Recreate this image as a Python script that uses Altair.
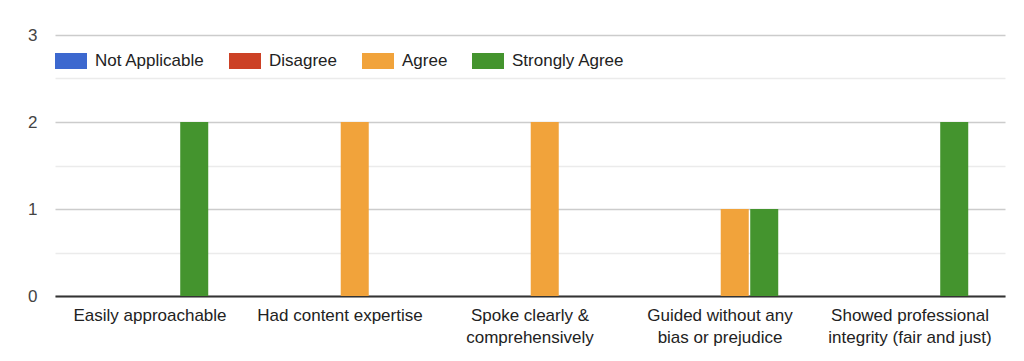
import altair as alt
import pandas as pd

categories = [
    "Easily approachable",
    "Had content expertise",
    "Spoke clearly & comprehensively",
    "Guided without any bias or prejudice",
    "Showed professional integrity (fair and just)",
]
label_lines = {
    "Spoke clearly & comprehensively": ["Spoke clearly &", "comprehensively"],
    "Guided without any bias or prejudice": ["Guided without any", "bias or prejudice"],
    "Showed professional integrity (fair and just)": ["Showed professional", "integrity (fair and just)"],
}
levels = ["Not Applicable", "Disagree", "Agree", "Strongly Agree"]
colors = ["#3c68cf", "#cc4125", "#f1a33b", "#44942e"]

not_applicable = [0, 0, 0, 0, 0]
disagree = [0, 0, 0, 0, 0]
agree = [0, 2, 2, 1, 0]
strongly_agree = [2, 0, 0, 1, 2]

series = {
    "Not Applicable": not_applicable,
    "Disagree": disagree,
    "Agree": agree,
    "Strongly Agree": strongly_agree,
}
rows = []
for lvl in levels:
    for c, v in zip(categories, series[lvl]):
        rows.append({"Category": c, "Response": lvl, "Count": v})
df = pd.DataFrame(rows)

expr = "datum.label"
for k, v in label_lines.items():
    arr = "[" + ", ".join("'" + s + "'" for s in v) + "]"
    k_esc = k.replace("'", "\\'")
    expr = f"datum.label == '{k_esc}' ? {arr} : ({expr})"

FONT = "Liberation Sans"

chart = (
    alt.Chart(df)
    .mark_bar()
    .encode(
        x=alt.X(
            "Category:N",
            sort=categories,
            title=None,
            scale=alt.Scale(paddingInner=0.387, paddingOuter=0.1935),
            axis=alt.Axis(
                labelAngle=0,
                labelExpr=expr,
                ticks=False,
                domainColor="#333333",
                domainWidth=2,
                labelColor="#222222",
                labelFont=FONT,
                labelFontSize=17,
                labelPadding=11,
                labelLineHeight=22,
                labelLimit=300,
            ),
        ),
        xOffset=alt.XOffset(
            "Response:N",
            sort=levels,
            scale=alt.Scale(paddingInner=0.05, paddingOuter=0),
        ),
        y=alt.Y(
            "Count:Q",
            title=None,
            scale=alt.Scale(domain=[0, 3], nice=False),
            axis=alt.Axis(
                values=[0, 0.5, 1, 1.5, 2, 2.5, 3],
                labelExpr="datum.value % 1 == 0 ? format(datum.value, 'd') : ''",
                gridColor={
                    "condition": {"test": "datum.value % 1 == 0", "value": "#cccccc"},
                    "value": "#ebebeb",
                },
                gridWidth=1.5,
                domain=False,
                ticks=False,
                labelColor="#444444",
                labelFont=FONT,
                labelFontSize=17,
                labelPadding=18,
            ),
        ),
        color=alt.Color(
            "Response:N",
            sort=levels,
            scale=alt.Scale(domain=levels, range=colors),
            legend=alt.Legend(
                title=None,
                orient="none",
                legendX=0,
                legendY=10,
                direction="horizontal",
                columns=4,
                symbolType="M-1,-0.5H1V0.5H-1Z",
                symbolSize=1024,
                symbolStrokeWidth=0,
                labelFont=FONT,
                labelFontSize=17,
                labelColor="#222222",
                labelOffset=8,
                columnPadding=24,
            ),
        ),
    )
    .properties(
        width=950,
        height=261,
        autosize=alt.AutoSizeParams(type="none"),
        padding={"left": 47, "top": 27, "right": 11, "bottom": 57},
    )
    .configure_view(stroke=None)
)

chart.save("out.html", embed_options={"renderer": "svg", "actions": False})
